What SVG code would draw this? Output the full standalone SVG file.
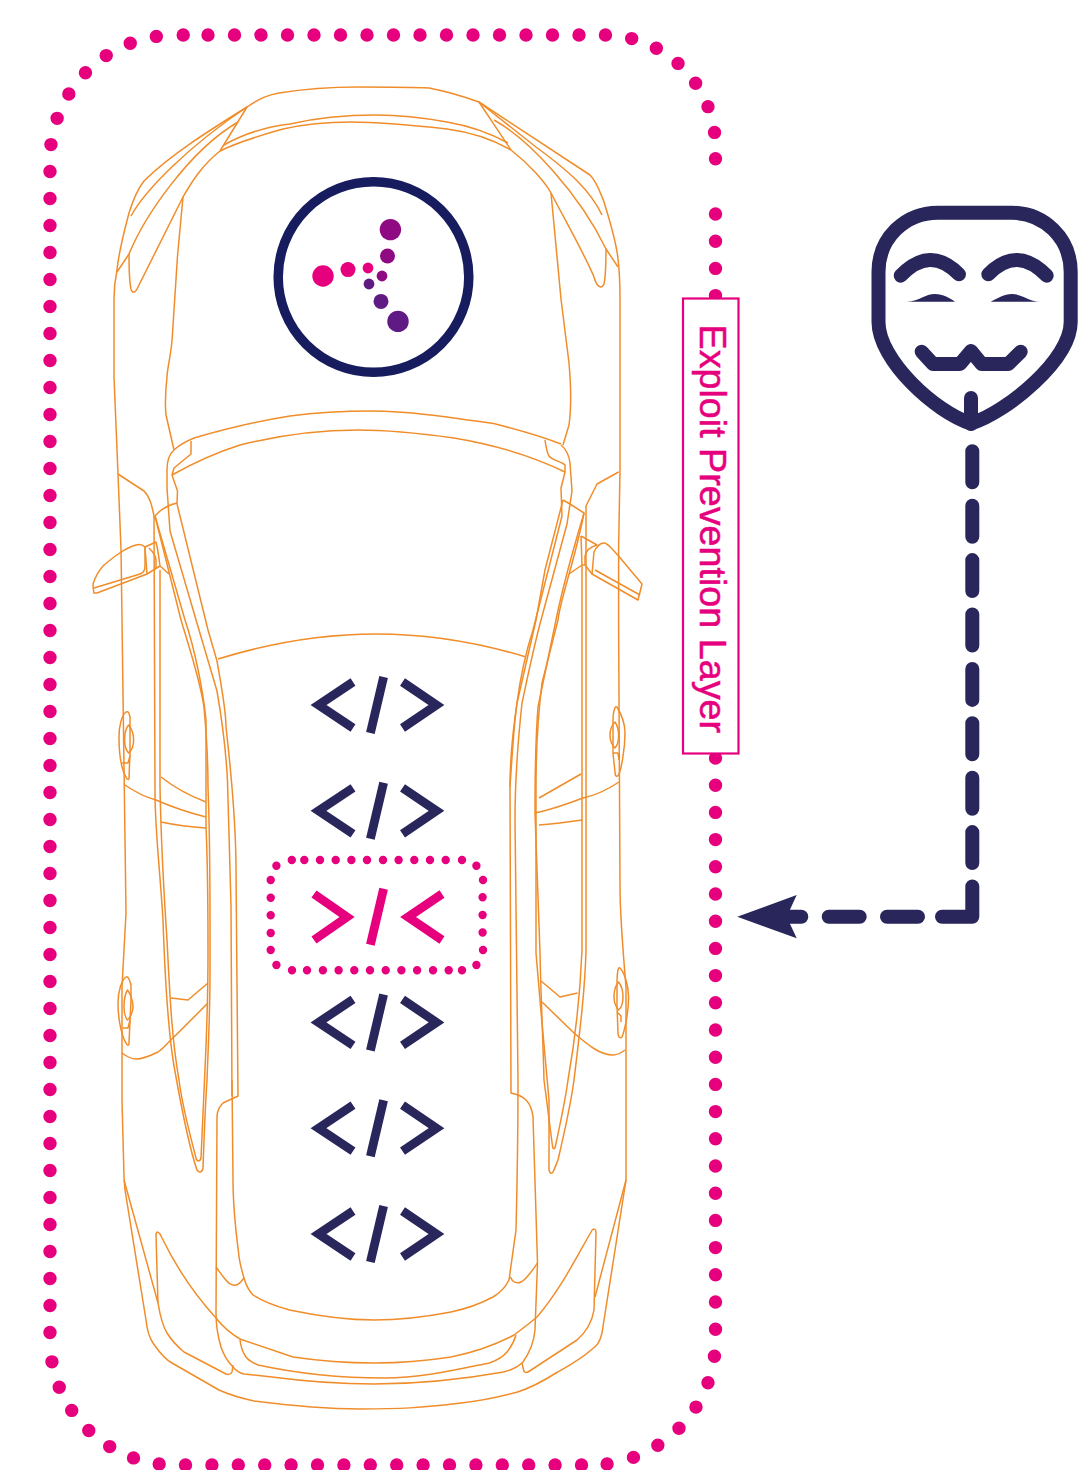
<svg xmlns="http://www.w3.org/2000/svg" width="1092" height="1470" viewBox="0 0 1092 1470">
<style>
.car{fill:none;stroke:#F08D2A;stroke-width:1.5;stroke-linejoin:round}
.code{fill:none;stroke:#28265A;stroke-width:8.8}
.hit{fill:none;stroke:#E6007E;stroke-width:8.8}
.mask{fill:none;stroke:#28265A;stroke-width:14;stroke-linecap:round;stroke-linejoin:round}
.pink{fill:#E6007E}.mid{fill:#8F0A82}.pur{fill:#5F1A84}
.dots{fill:none;stroke:#E6007E;stroke-width:13.4;stroke-linecap:round}
</style>
<defs>
<g id="tag"><path d="M353 -23L318.5 0L353 23"/><path d="M383.6 -28L370.4 28"/><path d="M402.5 -23L436.5 0L402.5 23"/></g>
</defs>
<rect width="1092" height="1470" fill="#fff"/>
<g id="car" class="car">
<path d="M247 107C260 98 268 95 279 93C310 88 330 87 358 87C390 87 410 87 429 88C450 92 465 97 479 102L590 175C597 182 600 192 604 202C610 222 616 240 618 259C620 275 620 285 620 300V470L618.6 548L618.6 620L620 887C620 915 622 940 626 987V1180L602 1333C600 1342 597 1346 591 1350C580 1360 568 1366 556 1373C545 1380 530 1388 517.5 1392C495 1398 478 1401 461 1403C420 1408 400 1409 360 1409C320 1409 285 1405 254 1401C240 1398 230 1395 219 1390L172 1363C163 1358 158 1350 153 1343C149 1337 147 1330 146 1320L125 1190L124 1177L122 1100V987L126 913L122 620L121 549L118 474L114 377V299C114 285 115 280 117 270C119 250 124 232 129 213C133 200 137 190 144 181C170 155 210 130 247 107Z"/>
<path d="M224 145C245 133 265 127 290 124C320 117 350 115 376 115C400 115 425 118 447 122C470 126 490 133 508 143"/>
<path d="M220 151C240 141 262 135 283 129C305 124 330 122 351 122C380 122 420 126 447 129C470 132 492 139 511 150"/>
<path d="M247 107L220 151M479 102L511 150"/>
<path d="M131 216C145 190 190 145 247 107"/>
<path d="M117 272L129 254C145 215 190 150 238 122"/>
<path d="M220 151C200 167 190 185 183 197L138 287C135 294 132 293 131 289C129 280 129 265 129 254"/>
<path d="M479 102L536 147C570 172 590 190 602 215"/>
<path d="M494 120C530 140 580 195 606 249L618 267"/>
<path d="M511 150C530 165 545 182 551 193C565 220 585 255 594 277C597 288 602 289 604 284C606 275 606 260 606 249"/>
<path d="M183 197L177.5 256L172 341C170 360 167 370 167 377C165 395 165 405 166 415L174 450"/>
<path d="M551 193L561 299L569 363C571 385 571 410 569 425L563 445"/>
<path d="M174 450C180 444 187 441 194 438C225 429 258 421 290 416C320 412 345 411 372 411C410 411 455 418 493.6 423.6C515 429 540 436 561 444"/>
<path d="M172 475C195 462 218 452 240 445C280 435 320 430 358 430C395 430 425 434 454 438C490 444 530 455 565 472"/>
<path d="M191 441V454L174 468L172 475L177.5 491L177 504"/>
<path d="M174 450C168 455 167 462 167 470V488L170 531L199 630L217 691C222 720 226 750 227.5 781L231 906L232 1096"/>
<path d="M177 504L208 630L217 661C222 690 226 710 226 727C232 780 236 830 236 870L238 1096L223 1103C219 1107 217 1112 217 1117L216 1313C216 1325 218 1337 221 1347C224 1356 228 1362 233 1367C237 1372 240 1373 244 1374L272 1377C310 1382 340 1384 374 1384C420 1384 470 1378 503.5 1372C512 1370 518 1367 523 1362C530 1352 534 1342 535 1330L537.5 1263L533 1117C532 1108 530 1104 526 1100C522 1096 516 1094 511 1093L510 787C512 755 514 725 517 703L536 620L545 570L563 500"/>
<path d="M155 516C160 510 168 505 177 503"/>
<path d="M155 516L181 620C190 650 200 680 204 707C207 740 208 765 208 787C210 840 210 880 210 920V970C210 1020 208 1050 207 1080C205 1110 204 1140 203 1168C202 1173 199 1173 197 1170C190 1150 180 1100 174 1066C168 1030 165 980 163 920C160 870 155 830 155 793L154 516"/>
<path d="M155 516L185 620C195 650 203 690 206 720L206 827C208 870 208 910 208 953C208 1000 206 1050 204.5 1080L201 1158C200 1162 197 1162 196 1158C190 1135 182 1105 179 1080C172 1040 170 1000 167 940C163 880 161 840 160 787V570"/>
<path d="M118 474L144 491C150 497 152 506 154 516"/>
<path d="M545 440C546 447 547 453 549 456C553 461 561 461 565 465V472L561 488L562 516L533 630C525 655 520 680 517 703C513 730 510 760 510 787"/>
<path d="M561 445C566 449 569 455 570 463L572 491L567 524L541 620C533 650 527 680 522 703C518 740 515 780 515 820L518 1080C518 1140 517 1190 516 1230L509 1280C505 1288 500 1293 493 1297C480 1304 465 1309 451 1312C425 1317 400 1320 374 1320C345 1320 318 1316 289.5 1310C275 1306 262 1301 253 1295C249 1291 246 1285 244 1278C241 1268 239 1258 238.6 1253C235 1225 233 1200 233 1180L232 1080"/>
<path d="M563 500L570 504L584 513C575 560 560 600 558 620L542 683C538 715 536 750 536 787L536 953C540 1000 545 1060 549 1100L549 1170C550 1174 552 1174 553 1172C555 1168 556 1165 558 1160C565 1130 572 1095 574 1080C580 1030 585 990 586 950V506L597 484L618.6 472"/>
<path d="M584 513C570 560 560 600 556 620L538 707C535 745 535 790 535 813L540 953C541 1000 543 1040 544 1080L552.6 1147C553 1149 554 1149 555 1148C560 1125 566 1095 568 1080C575 1040 580 1000 582 950V565"/>
<path d="M218 659C270 643 325 634 376 634C430 634 480 643 526 657"/>
<path d="M94 593C93 590 93 587 93 584C96 575 99 570 104 565C115 556 125 548 136 545C140 544 143 545 145 547L147 574L97 593Z"/>
<path d="M94 588L140 574C143 573 145 570 145 566V547L156 542C158 550 159 558 160 566L147 574"/>
<path d="M149 548C153 552 156 556 156 560V568M160 566L169 574"/>
<path d="M592 574L594 552C596 548 600 543 604 543C608 543 613 550 618.6 556L642 584L638 600L592 574Z"/>
<path d="M595 570L640 595M581 536L597 545C590 547 586 550 585 556V565L592 574M581 536L582 565L569 574M585 565L582 565"/>
<path d="M126 712C122 715 119 725 119 737C119 755 122 770 126 777C127 780 129 780 129 778L130 753L130 717C129 712 128 711 126 712Z"/>
<path d="M128.6 725C131 728 133.6 734 133.6 740C133.6 746 131 751 128.6 753C126 750 124.6 746 124.6 740C124.6 733 126 728 128.6 725ZM122 763H128L130 756"/>
<path d="M126 977C122 980 118 990 118 1003C118 1020 122 1037 126 1043C127 1046 129 1046 129 1043L131 1000V985C129 977 127 976 126 977Z"/>
<path d="M127.5 990C130 993 133 1000 133 1007C133 1012 130 1018 127.5 1020C125 1017 124 1012 124 1007C124 1000 125 994 127.5 990ZM123 1028H128L130 1020"/>
<path d="M617 707C620 712 625 722 625 733C625 750 621 770 618.6 775C616 778 615 775 615 772L613 753V720C613 712 615 705 617 707Z"/>
<path d="M615 722C617 725 618.6 730 618.6 735C618.6 741 617 746 615 748C612 745 610 741 610 735C610 729 612 725 615 722ZM613 753H618L619 760"/>
<path d="M620 968C624 972 628.6 985 628.6 997C628.6 1015 624 1032 622 1037C620 1039 618 1037 618 1033L617 1005V985C617 973 618 966 620 968Z"/>
<path d="M618.6 982C621 985 623 991 623 997C623 1003 621 1008 618.6 1010C616 1007 614 1003 614 997C614 991 616 985 618.6 982ZM617 1012L621 1016V1022"/>
<path d="M125 785C135 792 145 797 156 800C172 807 190 813 206 817"/>
<path d="M161 777C175 788 190 796 206 802M161 822C175 825 190 827 206 828"/>
<path d="M581 774L539 798M619 782C610 788 597 795 583 798C567 804 550 810 535 813M582 820C568 822 553 824 539 825"/>
<path d="M171 998L188 1000L208 983"/>
<path d="M208 1003L174 1037C170 1040 165 1047 158 1052C150 1056 143 1059 136 1059C130 1059 126 1056 122 1053"/>
<path d="M541 981L560 997L577.5 993"/>
<path d="M542 1002L574 1033C588 1045 600 1055 613 1055C618 1055 621 1053 625 1050"/>
<path d="M124 1180L158 1303M626 1180L595 1297"/>
<path d="M158 1303L156 1235C156 1231 159 1231 161 1236C175 1265 195 1295 216 1318C222 1326 230 1333 240 1339L293 1357C320 1361 350 1363 374 1363C400 1363 425 1361 451 1357C475 1352 495 1345 514 1335C522 1329 530 1323 537 1317C560 1290 575 1260 591 1232C593 1228 596 1228 596 1233L594 1310C592 1322 585 1333 577 1340L528 1372C525 1373 524 1372 523.6 1370L522 1363"/>
<path d="M158 1303C160 1315 162 1325 167 1333C172 1341 178 1347 184 1352L226 1374C229 1375 231 1374 232 1372L233 1365"/>
<path d="M216 1267C222 1275 228 1285 233 1285C238 1286 241 1282 244 1278"/>
<path d="M537.5 1263C532 1271 526 1280 521 1282C517 1284 512 1282 510.5 1277"/>
<path d="M240 1340C241 1348 243 1353 246 1357C249 1361 253 1363 258 1365C295 1373 340 1378 384 1378C420 1378 455 1370 489.5 1363C495 1361 502 1358 507 1352C511 1347 514 1342 516 1335"/>
</g>
<g id="logo">
<circle cx="373.5" cy="277" r="95.3" fill="none" stroke="#171C5E" stroke-width="9.5"/>
<circle class="mid" cx="390.4" cy="229.6" r="10.7"/><circle class="mid" cx="387.5" cy="256" r="7.5"/><circle class="mid" cx="382" cy="276" r="5.4"/>
<circle class="pink" cx="323" cy="276" r="10.7"/><circle class="pink" cx="348" cy="269.6" r="7.5"/><circle class="pink" cx="368" cy="268" r="5.4"/>
<circle class="pur" cx="398" cy="321.4" r="10.7"/><circle class="pur" cx="381" cy="301.4" r="7.5"/><circle class="pur" cx="369" cy="284" r="5.4"/>
</g>
<g id="code-1" class="code"><use href="#tag" y="705"/></g>
<g id="code-2" class="code"><use href="#tag" y="810.8"/></g>
<g id="code-3" class="hit"><path d="M314 894L347 917L314 940"/><path d="M383.6 888.7L370.4 944.7"/><path d="M442 894L408 917L442 940"/></g>
<path id="code-3-ring" fill="none" stroke="#E6007E" stroke-width="8.4" stroke-linecap="round" d="M291.8 860h0M304.3 860h0M320 860h0M335.7 860h0M351.4 860h0M367 860h0M383 860h0M398.6 860h0M414.3 860h0M430 860h0M445.7 860h0M462 860h0M476.4 865.7h0M483 880h0M482.6 897.3h0M482.6 915h0M482.6 932.5h0M483 950h0M476.4 965h0M462 970.3h0M448.7 970.3h0M433 970.3h0M417.1 970.3h0M401.4 970.3h0M385.7 970.3h0M370 970.3h0M354.3 970.3h0M338.6 970.3h0M322.9 970.3h0M307 970.3h0M292 970.3h0M276.4 965h0M270.7 950h0M270.7 933h0M270.7 915.3h0M270.7 897.7h0M270.7 880h0M276.4 865.7h0"/>
<g id="code-4" class="code"><use href="#tag" y="1022.4"/></g>
<g id="code-5" class="code"><use href="#tag" y="1128.2"/></g>
<g id="code-6" class="code"><use href="#tag" y="1234"/></g>
<g id="boundary">
<path class="dots" stroke-dasharray="0 26.5" d="M208 35H603.5A112 112 0 0 1 715.5 147V175"/>
<path class="dots" stroke-dasharray="0 27.2" d="M715.5 214V1340A125 125 0 0 1 590.5 1465"/>
<path class="dots" stroke-dasharray="0 26.4" d="M581.5 1465H175A125 125 0 0 1 50 1340V1336"/>
<path class="dots" stroke-dasharray="0 27" d="M50 1332.5V160A125 125 0 0 1 175 35H190"/>
</g>
<g id="label">
<rect x="683" y="298.5" width="55.5" height="455" fill="#fff" stroke="#E6007E" stroke-width="2.2"/>
<text transform="translate(700,324.5) rotate(90)" font-family="'Liberation Sans',Arial,sans-serif" font-size="37.7" fill="#E6007E" stroke="#E6007E" stroke-width="0.5">Exploit Prevention Layer</text>
</g>
<g id="attacker">
<path class="mask" d="M971 423.5C935 412 878.5 360 878.5 322V272C878.5 238 905 212.7 938 212.7H1011C1044 212.7 1070.7 238 1070.7 272V322C1070.7 360 1007 412 971 423.5Z"/>
<path class="mask" d="M971 398V424M900.7 275.7Q930 245 959 274.3M988.3 274.3Q1017 245 1046.7 275.7M921.7 351.7L933 364H960L971 351L981.7 364H1008.3L1020.7 351.7"/>
<path fill="#28265A" d="M906.7 301.7C920 301 925 294 935 294C943 294 950 298 955 301.7ZM990.7 301.7C998 298 1004 294 1012 294C1022 294 1028 301 1040 301.7Z"/>
</g>
<g id="connectors">
<path fill="none" stroke="#28265A" stroke-width="14" stroke-linecap="round" stroke-linejoin="round" d="M972.3 451.3v31M972.3 505.7v31M972.3 560.1v31M972.3 614.5v31M972.3 668.9v31M972.3 723.3v31M972.3 777.7v31M972.3 832.1v31M972.3 886.5V916.7H942M918 916.7H887M859.7 916.7H828.7M801.3 916.7H785"/>
<path fill="#28265A" d="M737.3 916.7L796.7 895L786.7 916.7L796.7 938.3Z"/>
</g>
</svg>
